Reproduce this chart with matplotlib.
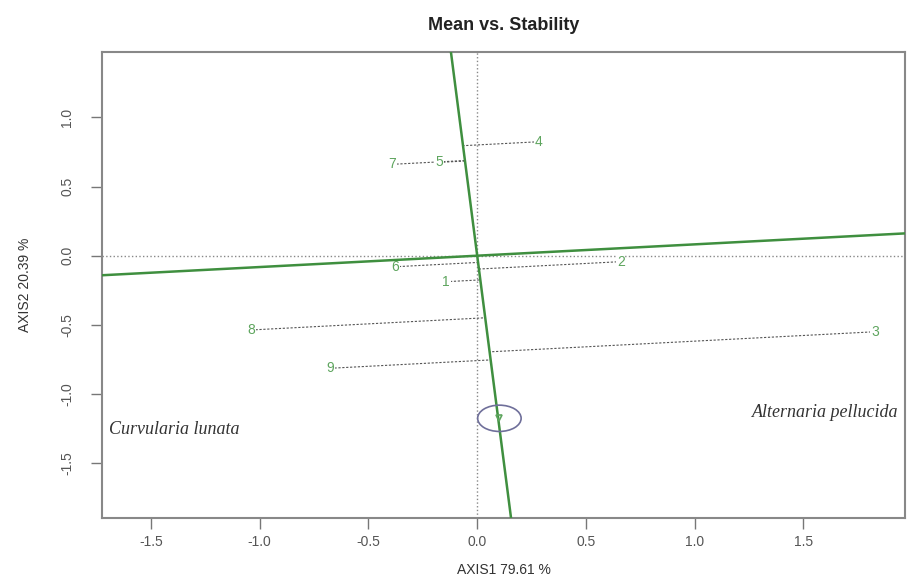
import numpy as np
import matplotlib.pyplot as plt
from matplotlib.patches import Ellipse

# genotype scores on the two axes
genotypes = ['1', '2', '3', '4', '5', '6', '7', '8', '9']
axis1 = [-0.143, 0.660, 1.829, 0.281, -0.174, -0.378, -0.389, -1.037, -0.674]
axis2 = [-0.188, -0.043, -0.550, 0.824, 0.675, -0.080, 0.661, -0.537, -0.814]

# average environment axis (slope through origin) and the arrow point on the ordinate
aec_slope = 0.082
arrow_pt = [0.102, -1.176]

species_left = 'Curvularia lunata'
species_right = 'Alternaria pellucida'

green = '#3f8f3f'
label_green = '#5ea55e'
grey = '#555555'

fig = plt.figure(figsize=(9.07, 5.78), dpi=100)
ax = fig.add_axes([0.1125, 0.1038, 0.8853, 0.8062])
ax.set_xlim(-1.725, 1.967)
ax.set_ylim(-1.897, 1.473)

# zero reference lines
ax.axhline(0, color='#888888', ls=':', lw=1.0, zorder=1)
ax.axvline(0, color='#888888', ls=':', lw=1.0, zorder=1)

# AEC abscissa and the perpendicular ordinate
ax.axline((0, 0), slope=aec_slope, color=green, lw=1.8, zorder=5)
ax.axline((0, 0), slope=-1.0 / aec_slope, color=green, lw=1.8, zorder=5)

# projections of each genotype onto the ordinate (parallel to abscissa)
d2 = np.array([-aec_slope, 1.0])
for gx, gy in zip(axis1, axis2):
    p = np.array([gx, gy])
    foot = (p @ d2) / (d2 @ d2) * d2
    ax.plot([gx, foot[0]], [gy, foot[1]], color=grey, lw=0.8,
            ls=(0, (2, 1.5)), zorder=2)

for name, gx, gy in zip(genotypes, axis1, axis2):
    ax.text(gx, gy, name, color=label_green, fontsize=10, ha='center', va='center',
            family='Liberation Sans', zorder=4,
            bbox=dict(boxstyle='square,pad=0.05', fc='white', ec='none'))

# small circle with arrow head on the ordinate
ax.add_patch(Ellipse(arrow_pt, width=0.2, height=0.19, fill=False,
                     ec='#6f6f9a', lw=1.2, zorder=6))
ax.plot(arrow_pt[0], arrow_pt[1], marker='v', ms=5, color=label_green,
        mfc='none', mew=1.2, zorder=6)

ax.text(-1.693, -1.260, species_left, fontsize=13, style='italic',
        family='Liberation Serif', color='#333333', ha='left', va='center')
ax.text(1.935, -1.135, species_right, fontsize=13, style='italic',
        family='Liberation Serif', color='#333333', ha='right', va='center')

ax.set_xticks([-1.5, -1.0, -0.5, 0.0, 0.5, 1.0, 1.5])
ax.set_yticks([-1.5, -1.0, -0.5, 0.0, 0.5, 1.0])
ax.set_xticklabels(['-1.5', '-1.0', '-0.5', '0.0', '0.5', '1.0', '1.5'])
ax.set_yticklabels(['-1.5', '-1.0', '-0.5', '0.0', '0.5', '1.0'],
                   rotation=90, va='center')
ax.tick_params(axis='both', colors='#777777', labelcolor=grey, labelsize=10,
               length=8, width=1.0)
ax.tick_params(axis='x', pad=4)
ax.tick_params(axis='y', pad=12)
for lab in ax.get_xticklabels() + ax.get_yticklabels():
    lab.set_family('Liberation Sans')
for sp in ax.spines.values():
    sp.set_color('#888888')
    sp.set_linewidth(1.5)

ax.set_xlabel('AXIS1 79.61 %', fontsize=10, color='#333333',
              family='Liberation Sans', labelpad=10)
ax.set_ylabel('AXIS2 20.39 %', fontsize=10, color='#333333',
              family='Liberation Sans', labelpad=20)
ax.set_title('Mean vs. Stability', fontsize=13, fontweight='bold',
             family='Liberation Sans', color='#222222', pad=16)

fig.savefig('out.png', dpi=100)
